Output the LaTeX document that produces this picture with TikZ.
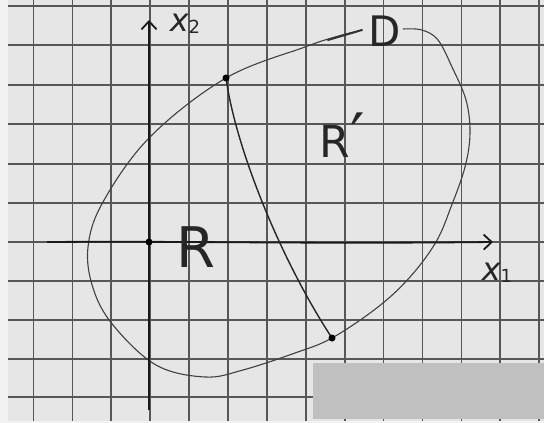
\documentclass[tikz,border=0pt]{standalone}
\usepackage{fontspec}
\setmainfont{DejaVu Sans}
\usetikzlibrary{arrows.meta}
\definecolor{paper}{HTML}{E6E6E6}
\definecolor{margin}{HTML}{F2F2F2}
\definecolor{gridc}{HTML}{575757}
\definecolor{boxc}{HTML}{C0C0C0}
\tikzset{
  gridline/.style={draw=gridc, line width=1.7pt},
  pencil/.style={draw=black!75, line width=1.1pt},
  chordline/.style={draw=black!85, line width=1.4pt},
  axis/.style={draw=black!90, line width=1.8pt, -{Straight Barb[length=8pt,width=15pt,line width=1.8pt]}},
  dotmark/.style={circle, fill=black, inner sep=0pt, minimum size=7pt},
  hand/.style={inner sep=0pt, text=black!85},
}
\newcommand{\xsub}[3]{{\fontsize{#1}{#1}\selectfont\itshape x}\raisebox{-0.45ex}{\fontsize{#2}{#2}\selectfont #3}}
\begin{document}
\begin{tikzpicture}[x=1pt,y=-1pt]
\useasboundingbox (0,0) rectangle (544,423);
\fill[margin] (0,0) rectangle (544,423);
\fill[paper] (8,0) rectangle (544,421);
% graph paper grid
\foreach \k in {0,...,13} {
  \draw[gridline] ({33.5+38.9*\k},0) -- ({33.5+38.9*\k},421);
}
\foreach \yy in {6,45,85,124,164,203,242,281,320,359,397} {
  \draw[gridline] (8,\yy) -- (544,\yy);
}
% named points
\coordinate (O) at (149,242);
\coordinate (xs) at (47,242);
\coordinate (xe) at (493,242);
\coordinate (ys) at (149,410);
\coordinate (ye) at (149,20);
\coordinate (P) at (226,78);
\coordinate (Q) at (332,338);
% region boundary D (open at the label)
\draw[pencil] plot[smooth, tension=0.6] coordinates {
  (403,29) (422,30) (438,40) (452,67) (466,100) (470,133) (465,167)
  (451,207) (436,242) (410,277) (378,307) (332,338) (295,353)
  (243,370) (205,377) (156,365) (113,325) (93,288) (88,247)
  (103,202) (150,137) (226,78) (305,47) (335,37) (362,30)};
\draw[draw=black!80, line width=2pt, line cap=round] (328,40) -- (362,30);
% axes
\draw[axis] (xs) .. controls (200,241) and (300,244) .. (xe);
\draw[axis] (ys) -- (ye);
% chord
\draw[chordline] (P) .. controls (236,150) and (282,262) .. (Q);
% dots
\node[dotmark] (o) at (O) {};
\node[dotmark] (p) at (P) {};
\node[dotmark] (q) at (Q) {};
% labels
\node[hand] (lx2) at (185,24) {\xsub{32}{18}{2}};
\node[hand] (lx1) at (497,273) {\xsub{32}{18}{1}};
\node[hand] (lD) at (385,31) {\fontsize{42}{42}\selectfont D};
\node[hand] (lR) at (196,247) {\fontsize{56}{56}\selectfont R};
\node[hand] (lRp) at (342,136) {\fontsize{44}{44}\selectfont R\raisebox{-0.05em}{\fontsize{64}{64}\selectfont ′}};
% covering box
\fill[boxc] (313,363) rectangle (544,419);
\end{tikzpicture}
\end{document}
